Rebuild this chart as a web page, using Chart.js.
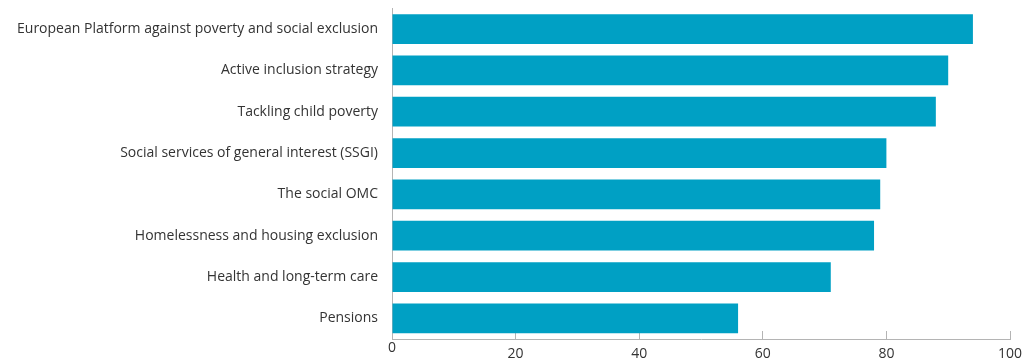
<!DOCTYPE html>
<html>
<head>
<meta charset="utf-8">
<script src="https://cdn.jsdelivr.net/npm/chart.js@4"></script>
<style>
  html, body { margin: 0; padding: 0; background: #ffffff; }
  #wrap { width: 1026px; height: 360px; position: relative; }
</style>
</head>
<body>
<div id="wrap"><canvas id="chart"></canvas></div>
<script>
// Policy areas and their scores
const categories = [
  'European Platform against poverty and social exclusion',
  'Active inclusion strategy',
  'Tackling child poverty',
  'Social services of general interest (SSGI)',
  'The social OMC',
  'Homelessness and housing exclusion',
  'Health and long-term care',
  'Pensions'
];
const values = [94, 90, 88, 80, 79, 78, 71, 56];
const xTicks = [0, 20, 40, 60, 80, 100];

const barColor = '#00a0c4';
const axisColor = '#b4b4b4';
const textColor = '#333333';
const fontFamily = "'Open Sans', 'Liberation Sans', sans-serif";

new Chart(document.getElementById('chart'), {
  type: 'bar',
  data: {
    labels: categories,
    datasets: [{
      data: values,
      backgroundColor: barColor,
      borderWidth: 0,
      categoryPercentage: 1,
      barPercentage: 0.72
    }]
  },
  options: {
    indexAxis: 'y',
    responsive: true,
    maintainAspectRatio: false,
    animation: false,
    layout: { padding: { top: 8, right: 16, bottom: 0, left: 0 } },
    plugins: { legend: { display: false }, tooltip: { enabled: false } },
    scales: {
      x: {
        min: 0,
        max: 100,
        afterBuildTicks: s => { s.ticks = xTicks.map(v => ({ value: v })); },
        afterFit: s => { s.height = 21; },
        border: { display: true, color: axisColor, width: 1 },
        grid: {
          drawOnChartArea: false,
          drawTicks: true,
          tickLength: -8,
          color: axisColor
        },
        ticks: {
          color: textColor,
          padding: 0,
          maxRotation: 0,
          autoSkip: false,
          // the zero label sits a little higher than the others
          font: ctx => ({
            family: fontFamily,
            size: 14,
            lineHeight: ctx.tick && ctx.tick.value === 0 ? '34px' : '46px'
          })
        }
      },
      y: {
        afterFit: s => { s.width = 392; },
        border: { display: true, color: axisColor, width: 1 },
        grid: {
          drawOnChartArea: false,
          drawTicks: true,
          tickLength: 14,
          color: 'rgba(0,0,0,0)'
        },
        ticks: {
          color: textColor,
          padding: 0,
          autoSkip: false,
          font: { family: fontFamily, size: 14 }
        }
      }
    }
  }
});
</script>
</body>
</html>
